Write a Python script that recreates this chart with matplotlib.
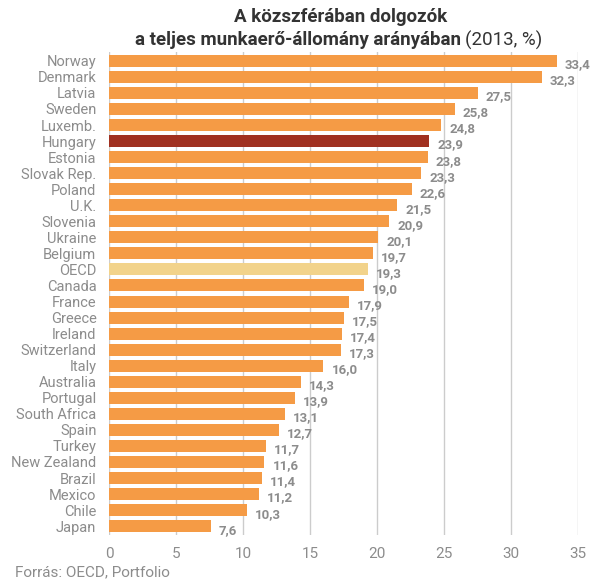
import matplotlib.pyplot as plt
import numpy as np

countries = ['Norway', 'Denmark', 'Latvia', 'Sweden', 'Luxemb.', 'Hungary', 'Estonia',
             'Slovak Rep.', 'Poland', 'U.K.', 'Slovenia', 'Ukraine', 'Belgium', 'OECD',
             'Canada', 'France', 'Greece', 'Ireland', 'Switzerland', 'Italy', 'Australia',
             'Portugal', 'South Africa', 'Spain', 'Turkey', 'New Zealand', 'Brazil',
             'Mexico', 'Chile', 'Japan']
values = [33.4, 32.3, 27.5, 25.8, 24.8, 23.9, 23.8, 23.3, 22.6, 21.5, 20.9, 20.1, 19.7,
          19.3, 19.0, 17.9, 17.5, 17.4, 17.3, 16.0, 14.3, 13.9, 13.1, 12.7, 11.7, 11.6,
          11.4, 11.2, 10.3, 7.6]

plt.rcParams['font.family'] = ['Roboto', 'DejaVu Sans']

orange = '#F59B45'
colors = []
for c in countries:
    if c == 'Hungary':
        colors.append('#A03020')
    elif c == 'OECD':
        colors.append('#F2D38B')
    else:
        colors.append(orange)

fig = plt.figure(figsize=(6.05, 5.83), dpi=100)
ax = fig.add_axes([109 / 605, 1 - 535 / 583, (578 - 109) / 605, (535 - 52) / 583])

y = np.arange(len(countries))
ax.barh(y, values, height=0.75, color=colors, zorder=3)
ax.set_ylim(len(countries) - 0.45, -0.55)
ax.set_xlim(0, 35)
ax.set_xticks(np.arange(0, 36, 5))
ax.grid(axis='x', color='#cccccc', linewidth=1, zorder=0)
ax.set_yticks(y)
ax.set_yticklabels(countries)
ax.tick_params(axis='y', length=0, pad=9, labelsize=10.5, labelcolor='#8c8c8c')
ax.tick_params(axis='x', length=0, pad=9, labelsize=11, labelcolor='#8c8c8c')
for s in ax.spines.values():
    s.set_visible(False)

for yi, v in zip(y, values):
    ax.text(v + 0.6, yi + 0.25, f'{v:.1f}'.replace('.', ','), va='center', ha='left',
            fontsize=9.5, fontweight='bold', color='#8c8c8c', zorder=4)

fig.text(341 / 605, 1 - 17 / 583, 'A közszférában dolgozók', ha='center', va='center',
         fontsize=13.5, fontweight='bold', color='#333333')
fig.text(461 / 605, 1 - 40 / 583, 'a teljes munkaerő-állomány arányában', ha='right',
         va='center', fontsize=13.5, fontweight='bold', color='#333333')
fig.text(465 / 605, 1 - 40 / 583, '(2013, %)', ha='left', va='center', fontsize=13.5,
         color='#333333')
fig.text(15 / 605, 1 - 572 / 583, 'Forrás: OECD, Portfolio', ha='left', va='center',
         fontsize=11, color='#8c8c8c')

fig.savefig('out.png', dpi=100)
